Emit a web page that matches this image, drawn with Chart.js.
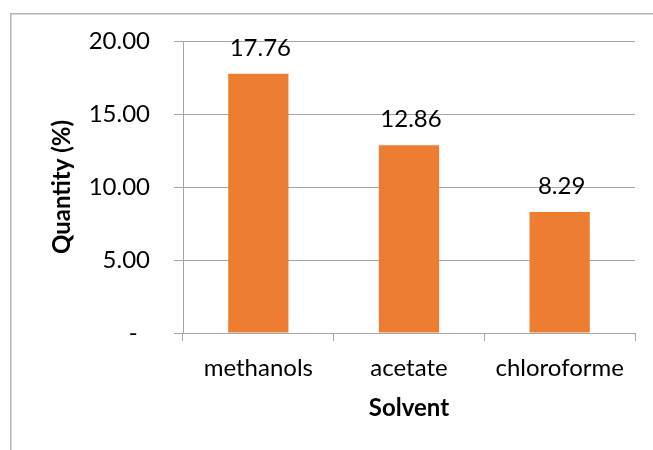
<!DOCTYPE html>
<html>
<head>
<meta charset="utf-8">
<title>Quantity by solvent</title>
<script src="https://cdn.jsdelivr.net/npm/chart.js@4/dist/chart.umd.min.js"></script>
<style>
  html, body { margin: 0; padding: 0; background: #ffffff; }
  canvas { display: block; }
</style>
</head>
<body>
<canvas id="chart" width="653" height="450"></canvas>
<script>
// Extraction yield per solvent
const categories = ['methanols', 'acetate', 'chloroforme'];
const quantities = [17.76, 12.86, 8.29];
const yTicks = [0, 5, 10, 15, 20];

const FONT = 'Lato, "Open Sans", sans-serif';
const SIZE = 24;
const GRID = '#a6a6a6';

// Outer frame of the chart box
const framePlugin = {
  id: 'frame',
  beforeDraw(chart) {
    const ctx = chart.ctx;
    ctx.save();
    ctx.fillStyle = '#ffffff';
    ctx.fillRect(0, 0, chart.width, chart.height);
    ctx.fillStyle = '#b3b3b3';
    ctx.fillRect(10, 13, chart.width - 10, 1.5);
    ctx.fillRect(10, 13, 1.5, chart.height - 13);
    ctx.restore();
  }
};

// Value labels above each bar
const valueLabels = {
  id: 'valueLabels',
  afterDatasetsDraw(chart) {
    const ctx = chart.ctx;
    const meta = chart.getDatasetMeta(0);
    ctx.save();
    ctx.font = SIZE + 'px ' + FONT;
    ctx.fillStyle = '#000000';
    ctx.textAlign = 'center';
    ctx.textBaseline = 'alphabetic';
    meta.data.forEach((bar, i) => {
      ctx.fillText(quantities[i].toFixed(2), bar.x + 2, bar.y - 18);
    });
    ctx.restore();
  }
};

new Chart(document.getElementById('chart'), {
  type: 'bar',
  data: {
    labels: categories,
    datasets: [{
      data: quantities,
      backgroundColor: '#ed7d31',
      borderWidth: 0,
      barPercentage: 0.4,
      categoryPercentage: 1.0
    }]
  },
  options: {
    responsive: false,
    animation: false,
    devicePixelRatio: 1,
    layout: { padding: { left: 48, top: 41, right: 18, bottom: 27 } },
    plugins: {
      legend: { display: false },
      tooltip: { enabled: false }
    },
    scales: {
      x: {
        grid: {
          drawOnChartArea: false,
          drawTicks: true,
          tickLength: 8,
          color: GRID
        },
        border: { color: GRID, width: 1 },
        ticks: {
          color: '#000000',
          padding: 13,
          font: { family: FONT, size: SIZE }
        },
        title: {
          display: true,
          text: 'Solvent',
          color: '#000000',
          padding: 0,
          font: { family: FONT, size: SIZE, weight: 'bold' }
        },
        afterFit(scale) { scale.height = 90; }
      },
      y: {
        min: 0,
        max: 20,
        afterBuildTicks(scale) { scale.ticks = yTicks.map(v => ({ value: v })); },
        grid: {
          color: GRID,
          drawTicks: true,
          tickLength: 9
        },
        border: { color: GRID, width: 1 },
        ticks: {
          color: '#000000',
          padding: 24,
          font: { family: FONT, size: SIZE },
          callback: v => (v === 0 ? '-  ' : v.toFixed(2))
        },
        title: {
          display: true,
          text: 'Quantity (%)',
          color: '#000000',
          padding: 0,
          font: { family: FONT, size: SIZE, weight: 'bold' }
        },
        afterFit(scale) { scale.width = 135; }
      }
    }
  },
  plugins: [framePlugin, valueLabels]
});
</script>
</body>
</html>
